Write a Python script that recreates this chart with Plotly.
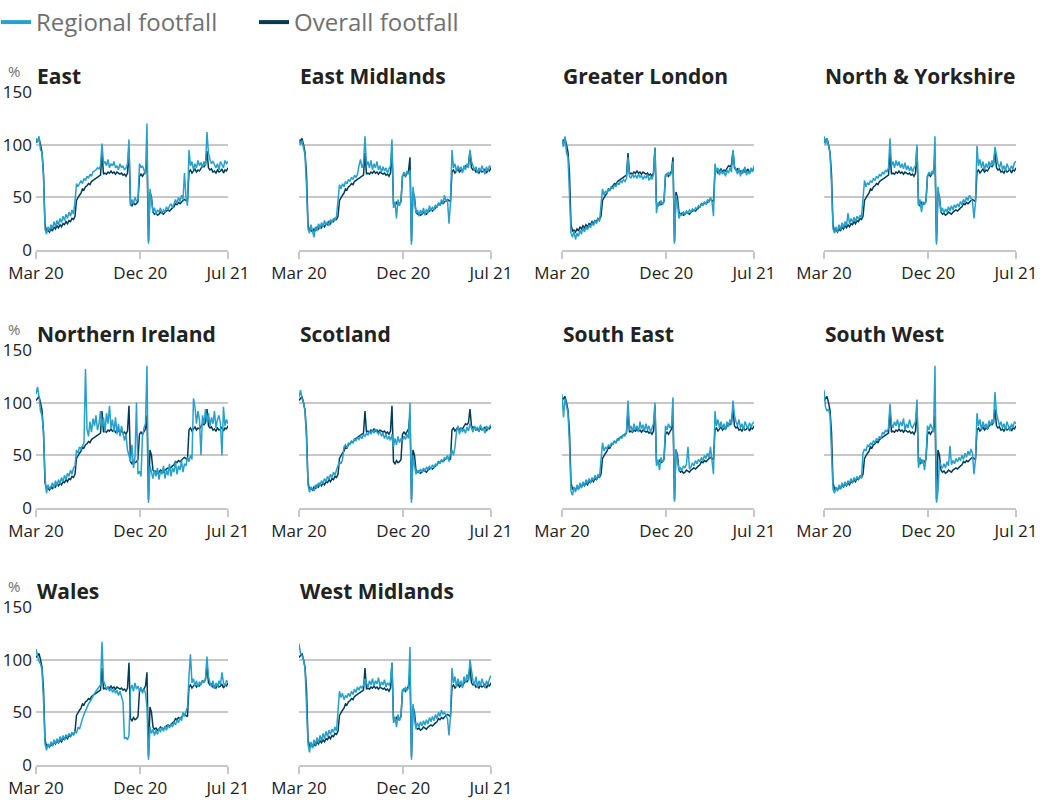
import pandas as pd
import plotly.graph_objects as go

# Sample dates: every 4 days from 1 Mar 2020 to 26 Jul 2021 (129 points)
dates = pd.date_range("2020-03-01", periods=129, freq="4D")

tick_vals = ["2020-03-01", "2020-12-04", "2021-07-26"]
tick_text = ["Mar 20", "Dec 20", "Jul 21"]
y_ticks = [0, 50, 100, 150]

# Overall (UK) footfall, % of previous year
overall = [
    102, 104, 106, 100, 93, 72, 24, 18, 19, 17,
    20, 18, 22, 20, 23, 21, 24, 22, 25, 24,
    27, 25, 28, 27, 30, 29, 32, 47, 50, 52,
    54, 58, 57, 60, 61, 63, 62, 65, 66, 67,
    68, 69, 70, 71, 92, 72, 73, 72, 74, 73,
    75, 73, 74, 72, 74, 73, 72, 73, 71, 72,
    70, 73, 97, 44, 42, 45, 43, 44, 46, 70,
    72, 70, 73, 75, 88, 8, 55, 50, 36, 34,
    35, 33, 34, 36, 35, 34, 36, 37, 38, 37,
    39, 40, 41, 44, 43, 45, 44, 46, 47, 48,
    47, 46, 74, 76, 73, 75, 77, 74, 76, 75,
    78, 80, 79, 81, 94, 78, 76, 77, 74, 75,
    73, 76, 74, 75, 77, 73, 76, 75, 78,
]

east = [
    106, 102, 108, 95, 93, 70, 20, 15, 22, 18,
    24, 20, 27, 22, 28, 24, 30, 26, 32, 28,
    34, 30, 36, 32, 38, 34, 46, 63, 60, 64,
    66, 63, 68, 66, 70, 68, 72, 70, 74, 75,
    76, 78, 77, 80, 101, 82, 84, 80, 86, 78,
    82, 80, 84, 78, 80, 76, 82, 78, 80, 76,
    78, 82, 105, 42, 48, 44, 50, 46, 48, 82,
    78, 80, 76, 72, 120, 6, 58, 48, 36, 40,
    34, 38, 36, 40, 35, 38, 36, 41, 38, 42,
    44, 40, 45, 48, 44, 50, 46, 52, 48, 73,
    50, 42, 95, 80, 84, 76, 82, 78, 85, 80,
    83, 78, 84, 80, 112, 92, 86, 82, 84, 80,
    78, 82, 76, 84, 80, 78, 85, 82, 84,
]

east_midlands = [
    105, 100, 104, 96, 90, 60, 20, 16, 24, 18,
    12, 22, 18, 25, 20, 26, 22, 28, 24, 27,
    23, 29, 26, 30, 28, 32, 45, 62, 58, 63,
    60, 65, 63, 67, 65, 69, 67, 71, 69, 72,
    80, 86, 78, 82, 108, 80, 84, 78, 85, 76,
    82, 78, 84, 76, 80, 74, 79, 75, 78, 73,
    77, 80, 105, 40, 46, 30, 48, 42, 46, 70,
    74, 70, 75, 72, 76, 5, 60, 45, 35, 38,
    32, 38, 34, 40, 33, 39, 35, 42, 37, 41,
    38, 43, 40, 45, 42, 48, 44, 52, 46, 48,
    25, 44, 95, 78, 82, 74, 80, 76, 79, 73,
    80, 76, 82, 78, 95, 84, 80, 76, 79, 73,
    78, 74, 80, 76, 72, 79, 75, 80, 78,
]

greater_london = [
    105, 98, 108, 92, 88, 55, 16, 12, 18, 10,
    16, 13, 19, 15, 21, 17, 22, 19, 24, 21,
    26, 23, 28, 25, 30, 27, 45, 58, 52, 56,
    54, 58, 56, 60, 58, 62, 60, 64, 62, 66,
    64, 67, 65, 68, 88, 70, 68, 72, 69, 71,
    68, 72, 69, 71, 67, 70, 68, 72, 66, 69,
    67, 72, 97, 35, 45, 42, 47, 43, 46, 72,
    70, 74, 71, 73, 84, 6, 52, 44, 30, 34,
    33, 36, 34, 37, 35, 38, 36, 39, 37, 40,
    39, 42, 40, 44, 42, 46, 43, 48, 45, 50,
    46, 32, 82, 74, 78, 71, 76, 72, 75, 70,
    76, 73, 78, 74, 95, 80, 76, 72, 78, 70,
    76, 73, 79, 71, 75, 72, 78, 74, 80,
]

north_yorkshire = [
    108, 100, 106, 98, 92, 62, 20, 16, 22, 17,
    24, 19, 26, 21, 27, 23, 35, 25, 30, 26,
    31, 27, 32, 29, 33, 31, 48, 66, 60, 64,
    62, 66, 64, 68, 66, 70, 68, 72, 70, 74,
    72, 76, 74, 78, 106, 80, 84, 78, 85, 80,
    84, 78, 82, 77, 83, 76, 80, 75, 79, 74,
    78, 80, 100, 42, 48, 36, 46, 43, 47, 70,
    74, 71, 75, 72, 108, 5, 60, 48, 36, 40,
    35, 39, 36, 41, 37, 42, 38, 43, 40, 44,
    41, 46, 43, 48, 45, 50, 47, 52, 48, 46,
    30, 45, 99, 80, 86, 78, 84, 76, 82, 78,
    84, 79, 85, 80, 98, 88, 82, 78, 84, 76,
    80, 75, 82, 78, 76, 80, 77, 83, 84,
]

northern_ireland = [
    108, 115, 106, 92, 88, 72, 30, 14, 22, 18,
    20, 24, 19, 26, 21, 27, 23, 29, 25, 31,
    27, 33, 30, 36, 32, 38, 40, 55, 52, 58,
    56, 60, 62, 132, 75, 68, 82, 72, 85, 78,
    88, 74, 80, 92, 78, 86, 72, 90, 80, 97,
    76, 84, 72, 86, 70, 80, 68, 78, 72, 64,
    70, 55, 50, 44, 60, 38, 48, 100, 32, 35,
    30, 68, 76, 80, 135, 5, 40, 32, 28, 36,
    30, 38, 27, 35, 32, 40, 28, 36, 31, 42,
    30, 38, 34, 44, 32, 40, 36, 45, 34, 42,
    40, 48, 44, 50, 46, 104, 96, 80, 92, 84,
    50, 88, 80, 94, 82, 90, 78, 86, 80, 92,
    76, 84, 88, 80, 50, 96, 78, 84, 80,
]

scotland = [
    105, 112, 104, 100, 92, 65, 22, 15, 20, 18,
    16, 22, 19, 24, 21, 26, 23, 28, 25, 30,
    27, 32, 29, 34, 31, 36, 40, 44, 42, 46,
    58, 60, 57, 62, 60, 64, 62, 66, 64, 67,
    65, 68, 66, 70, 68, 71, 69, 73, 70, 74,
    71, 75, 72, 70, 73, 68, 71, 66, 70, 65,
    68, 64, 70, 58, 66, 60, 68, 62, 66, 64,
    68, 65, 70, 66, 100, 5, 50, 42, 32, 36,
    33, 37, 34, 38, 35, 39, 36, 40, 37, 41,
    38, 42, 40, 44, 42, 46, 44, 48, 46, 50,
    44, 52, 55, 50, 58, 72, 78, 70, 76, 72,
    75, 71, 77, 73, 80, 76, 72, 78, 74, 77,
    73, 79, 74, 76, 71, 78, 75, 77, 79,
]

south_east = [
    108, 86, 104, 95, 90, 60, 16, 12, 20, 15,
    22, 17, 24, 19, 25, 21, 27, 23, 28, 24,
    29, 26, 31, 27, 32, 29, 46, 62, 54, 58,
    56, 60, 58, 62, 60, 64, 62, 66, 64, 68,
    66, 70, 68, 72, 102, 74, 78, 72, 80, 74,
    78, 72, 82, 75, 79, 73, 80, 74, 78, 72,
    76, 80, 100, 40, 46, 36, 48, 44, 46, 78,
    74, 80, 76, 78, 105, 6, 56, 46, 35, 38,
    36, 40, 38, 42, 58, 37, 39, 43, 40, 45,
    42, 46, 44, 48, 45, 50, 47, 52, 48, 58,
    46, 32, 92, 78, 84, 76, 82, 75, 80, 74,
    82, 77, 84, 79, 102, 88, 82, 78, 84, 76,
    80, 74, 82, 78, 75, 81, 77, 80, 82,
]

south_west = [
    112, 96, 92, 94, 88, 60, 18, 14, 20, 16,
    22, 18, 24, 20, 25, 21, 26, 23, 28, 24,
    29, 26, 30, 27, 31, 28, 52, 56, 54, 60,
    58, 62, 60, 64, 62, 66, 64, 68, 66, 72,
    70, 74, 72, 76, 99, 80, 76, 82, 78, 84,
    76, 82, 78, 85, 74, 80, 76, 84, 78, 76,
    80, 82, 103, 38, 48, 42, 46, 36, 48, 78,
    74, 80, 76, 72, 135, 5, 16, 44, 40, 38,
    42, 38, 44, 40, 59, 41, 45, 42, 47, 44,
    48, 45, 50, 46, 52, 48, 54, 50, 56, 52,
    32, 46, 90, 78, 84, 74, 82, 76, 80, 75,
    83, 78, 84, 80, 110, 90, 84, 78, 82, 76,
    80, 74, 82, 77, 73, 80, 76, 82, 80,
]

wales = [
    110, 104, 98, 96, 90, 62, 20, 14, 20, 17,
    22, 18, 24, 20, 25, 21, 27, 23, 28, 24,
    29, 26, 30, 27, 31, 28, 32, 30, 36, 34,
    40, 44, 48, 52, 55, 58, 60, 63, 66, 68,
    70, 72, 74, 76, 117, 80, 76, 72, 74, 70,
    73, 69, 72, 68, 71, 66, 70, 65, 60, 25,
    26, 24, 28, 72, 76, 70, 78, 72, 75, 70,
    74, 68, 72, 68, 55, 5, 36, 30, 34, 28,
    33, 29, 35, 31, 36, 32, 37, 33, 38, 35,
    39, 36, 41, 38, 43, 40, 45, 42, 50, 46,
    52, 55, 84, 105, 78, 82, 75, 80, 74, 79,
    76, 80, 78, 82, 103, 84, 78, 74, 80, 72,
    78, 74, 80, 76, 88, 78, 75, 80, 79,
]

west_midlands = [
    115, 106, 104, 100, 92, 60, 20, 12, 22, 16,
    24, 19, 26, 21, 28, 23, 30, 25, 32, 27,
    33, 29, 34, 31, 36, 32, 48, 70, 64, 68,
    62, 66, 64, 68, 65, 70, 67, 72, 69, 74,
    71, 75, 73, 76, 82, 78, 74, 80, 76, 82,
    75, 80, 77, 83, 74, 79, 76, 81, 74, 78,
    76, 79, 97, 40, 46, 36, 48, 42, 46, 72,
    70, 74, 71, 73, 112, 5, 58, 44, 34, 40,
    36, 41, 37, 42, 38, 43, 39, 45, 41, 46,
    42, 48, 44, 50, 46, 52, 48, 50, 46, 44,
    28, 46, 92, 78, 84, 74, 82, 76, 80, 73,
    84, 78, 86, 80, 100, 88, 80, 76, 84, 74,
    80, 75, 82, 77, 73, 80, 76, 82, 85,
]

regions = ["East", "East Midlands", "Greater London", "North & Yorkshire",
           "Northern Ireland", "Scotland", "South East", "South West",
           "Wales", "West Midlands"]
regional = [east, east_midlands, greater_london, north_yorkshire,
            northern_ireland, scotland, south_east, south_west,
            wales, west_midlands]

for s in [overall] + regional:
    assert len(s) == len(dates), len(s)

# ---- styling / layout ----
W, H = 1045, 809
LIGHT = "#27a0cc"
DARK = "#003c57"
GRID = "#c8c8c8"
FONT = "Open Sans"
col_left = [36, 299, 562, 824]
plot_w = 192
row_top = [92, 350, 607]
plot_h = 158


def fx(p):
    return p / W


def fy(p):
    return 1 - p / H


fig = go.Figure()
annotations = []
layout_axes = {}

for k, (name, vals) in enumerate(zip(regions, regional)):
    r, c = divmod(k, 4)
    sfx = "" if k == 0 else str(k + 1)
    xa, ya = "x" + sfx, "y" + sfx
    fig.add_trace(go.Scatter(x=dates, y=overall, mode="lines",
                             line=dict(color=DARK, width=1.5),
                             xaxis=xa, yaxis=ya, showlegend=False,
                             hoverinfo="skip"))
    fig.add_trace(go.Scatter(x=dates, y=vals, mode="lines",
                             line=dict(color=LIGHT, width=1.5),
                             xaxis=xa, yaxis=ya, showlegend=False,
                             hoverinfo="skip"))
    x0, x1 = col_left[c], col_left[c] + plot_w
    y0, y1 = row_top[r], row_top[r] + plot_h
    layout_axes["xaxis" + sfx] = dict(
        domain=[fx(x0), fx(x1)], anchor=ya, type="date", automargin=False,
        range=["2020-03-01", "2021-07-26 02:00"],
        tickmode="array", tickvals=tick_vals, ticktext=tick_text,
        ticks="outside", ticklen=7, tickwidth=1.5, tickcolor=GRID,
        showline=True, linecolor=GRID, linewidth=2,
        showgrid=False, zeroline=False,
        tickfont=dict(family=FONT, size=17, color="#222222"),
        fixedrange=True)
    layout_axes["yaxis" + sfx] = dict(
        domain=[fy(y1), fy(y0)], anchor=xa, range=[0, 150], automargin=False,
        tickmode="array", tickvals=y_ticks,
        showticklabels=(c == 0), ticks="", ticklabelstandoff=3,
        showgrid=True, gridcolor=GRID, gridwidth=1.5,
        zeroline=False, showline=False,
        tickfont=dict(family=FONT, size=17, color="#222222"),
        fixedrange=True)
    annotations.append(dict(
        text="<b>%s</b>" % name, xref="paper", yref="paper",
        x=fx(x0 - 1), y=fy(y0 - 16), xanchor="left", yanchor="middle",
        showarrow=False, font=dict(family=FONT, size=21, color="#222222")))
    if c == 0:
        annotations.append(dict(
            text="%", xref="paper", yref="paper",
            x=fx(14), y=fy(y0 - 21), xanchor="center", yanchor="middle",
            showarrow=False, font=dict(family=FONT, size=15, color="#707070")))

# legend entries (line keys only)
fig.add_trace(go.Scatter(x=[None], y=[None], mode="lines", name="Regional footfall",
                         line=dict(color=LIGHT, width=4), xaxis="x", yaxis="y"))
fig.add_trace(go.Scatter(x=[None], y=[None], mode="lines", name="Overall footfall",
                         line=dict(color=DARK, width=4), xaxis="x", yaxis="y"))

fig.update_layout(
    width=W, height=H,
    margin=dict(l=0, r=0, t=0, b=0, autoexpand=False),
    paper_bgcolor="white", plot_bgcolor="white",
    font=dict(family=FONT, color="#222222"),
    showlegend=True,
    legend=dict(orientation="h", x=fx(-4), y=1, xanchor="left", yanchor="top",
                font=dict(family=FONT, size=24, color="#707070"),
                bgcolor="rgba(0,0,0,0)", itemwidth=30,
                entrywidth=213, entrywidthmode="pixels"),
    annotations=annotations,
    hovermode=False,
    **layout_axes,
)

fig.write_html("out.html", config={"displayModeBar": False},
               post_script="document.body.style.margin='0';document.body.style.overflow='hidden';")
